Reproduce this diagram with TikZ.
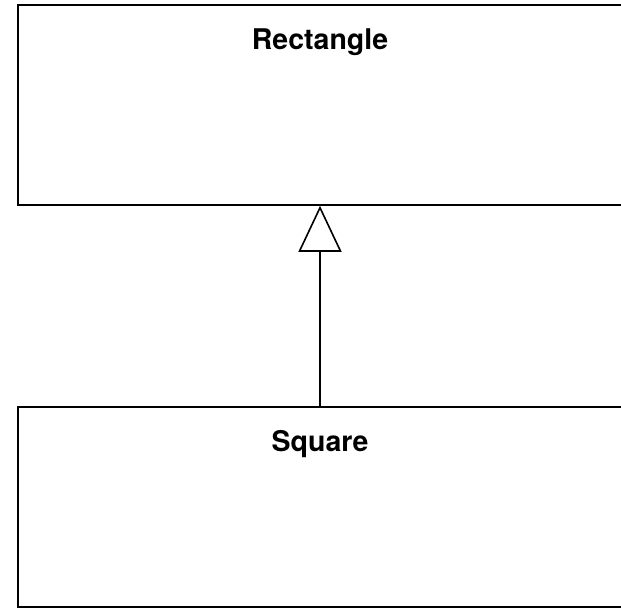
\documentclass[tikz,border=0pt]{standalone}
\usepackage{fontspec}
\setmainfont{TeX Gyre Heros}
\usetikzlibrary{arrows.meta,positioning}

\begin{document}
\begin{tikzpicture}[
  x=1pt,y=-1pt,
  node distance=24pt,
  cls/.style={rectangle,draw,line width=1.6pt,minimum width=604pt,
    minimum height=200pt,inner sep=0pt},
  ttl/.style={inner sep=0pt,font=\fontsize{28.5}{32}\selectfont\bfseries},
  inh/.style={-{Triangle[open,fill=white,length=46pt,width=43pt]},line width=1.6pt}
]
\useasboundingbox (0,0) rectangle (621,608);
\node[cls] (rect) at (320,105) {};
\node[ttl,below=of rect.north] (rectname) {Rectangle};

\node[cls] (sq) at (320,507) {};
\node[ttl,below=of sq.north] (sqname) {Square};

\draw[inh] (sq.north) -- (rect.south);
\end{tikzpicture}
\end{document}
